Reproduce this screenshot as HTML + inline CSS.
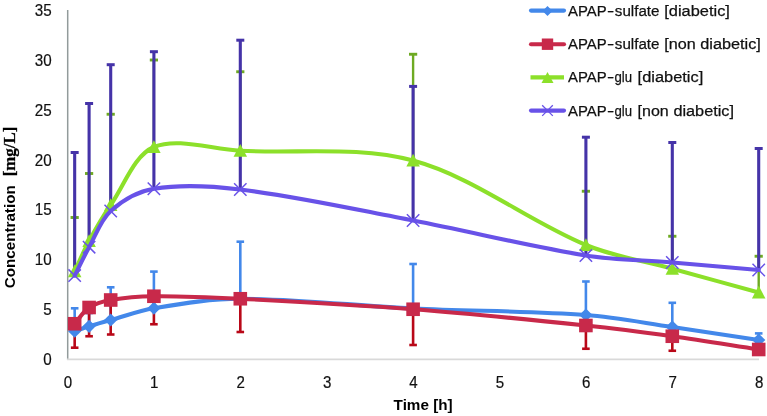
<!DOCTYPE html>
<html><head><meta charset="utf-8"><title>Chart</title>
<style>
html,body{margin:0;padding:0;background:#fff;}
svg{display:block}
.t{font-family:"Liberation Sans",sans-serif;font-size:15.5px;fill:#111;stroke:#111;stroke-width:0.25px;}
.d{font-family:"Liberation Sans",sans-serif;font-size:16.6px;fill:#111;stroke:#111;stroke-width:0.2px;}
.b{font-family:"Liberation Sans",sans-serif;font-size:15.5px;font-weight:bold;fill:#000;}
.s{font-family:"Liberation Serif",serif;font-size:17.5px;font-weight:bold;fill:#000;stroke:#000;stroke-width:0.3px;}
</style></head><body>
<svg width="767" height="416" viewBox="0 0 767 416">
<rect width="767" height="416" fill="#fff"/>
<path d="M67.7,10V360" stroke="#929b9b" stroke-width="1.5" fill="none"/>
<path d="M67,359.4H759" stroke="#d9d9d9" stroke-width="1.6" fill="none"/>
<path d="M74.67,331.25V308.30" stroke="#4388ea" stroke-width="2.6" fill="none"/><path d="M70.87,308.30h7.6" stroke="#4388ea" stroke-width="2.6" fill="none"/><path d="M89.10,326.30V313.00" stroke="#4388ea" stroke-width="2.6" fill="none"/><path d="M85.30,313.00h7.6" stroke="#4388ea" stroke-width="2.6" fill="none"/><path d="M110.70,320.00V287.30" stroke="#4388ea" stroke-width="2.6" fill="none"/><path d="M106.90,287.30h7.6" stroke="#4388ea" stroke-width="2.6" fill="none"/><path d="M153.90,308.25V271.60" stroke="#4388ea" stroke-width="2.6" fill="none"/><path d="M150.10,271.60h7.6" stroke="#4388ea" stroke-width="2.6" fill="none"/><path d="M240.30,298.75V241.70" stroke="#4388ea" stroke-width="2.6" fill="none"/><path d="M236.50,241.70h7.6" stroke="#4388ea" stroke-width="2.6" fill="none"/><path d="M413.10,308.50V264.00" stroke="#4388ea" stroke-width="2.6" fill="none"/><path d="M409.30,264.00h7.6" stroke="#4388ea" stroke-width="2.6" fill="none"/><path d="M585.90,315.00V281.50" stroke="#4388ea" stroke-width="2.6" fill="none"/><path d="M582.10,281.50h7.6" stroke="#4388ea" stroke-width="2.6" fill="none"/><path d="M672.30,327.00V302.80" stroke="#4388ea" stroke-width="2.6" fill="none"/><path d="M668.50,302.80h7.6" stroke="#4388ea" stroke-width="2.6" fill="none"/><path d="M758.70,340.00V333.40" stroke="#4388ea" stroke-width="2.6" fill="none"/><path d="M754.90,333.40h7.6" stroke="#4388ea" stroke-width="2.6" fill="none"/>
<path d="M74.67,323.75V347.70" stroke="#b90818" stroke-width="2.6" fill="none"/><path d="M70.87,347.70h7.6" stroke="#b90818" stroke-width="2.6" fill="none"/><path d="M89.10,307.50V336.25" stroke="#b90818" stroke-width="2.6" fill="none"/><path d="M85.30,336.25h7.6" stroke="#b90818" stroke-width="2.6" fill="none"/><path d="M110.70,300.00V334.50" stroke="#b90818" stroke-width="2.6" fill="none"/><path d="M106.90,334.50h7.6" stroke="#b90818" stroke-width="2.6" fill="none"/><path d="M153.90,296.25V324.25" stroke="#b90818" stroke-width="2.6" fill="none"/><path d="M150.10,324.25h7.6" stroke="#b90818" stroke-width="2.6" fill="none"/><path d="M240.30,298.75V332.00" stroke="#b90818" stroke-width="2.6" fill="none"/><path d="M236.50,332.00h7.6" stroke="#b90818" stroke-width="2.6" fill="none"/><path d="M413.10,309.25V345.00" stroke="#b90818" stroke-width="2.6" fill="none"/><path d="M409.30,345.00h7.6" stroke="#b90818" stroke-width="2.6" fill="none"/><path d="M585.90,325.50V348.75" stroke="#b90818" stroke-width="2.6" fill="none"/><path d="M582.10,348.75h7.6" stroke="#b90818" stroke-width="2.6" fill="none"/><path d="M672.30,336.25V350.75" stroke="#b90818" stroke-width="2.6" fill="none"/><path d="M668.50,350.75h7.6" stroke="#b90818" stroke-width="2.6" fill="none"/><path d="M758.70,349.50V354.50" stroke="#b90818" stroke-width="2.6" fill="none"/><path d="M754.90,354.50h7.6" stroke="#b90818" stroke-width="2.6" fill="none"/>
<path d="M74.67,271.25V217.50" stroke="#6eaa22" stroke-width="2.4" fill="none"/><path d="M70.57,217.50h8.2" stroke="#6eaa22" stroke-width="2.9" fill="none"/><path d="M89.10,241.00V173.50" stroke="#6eaa22" stroke-width="2.4" fill="none"/><path d="M85.00,173.50h8.2" stroke="#6eaa22" stroke-width="2.9" fill="none"/><path d="M110.70,205.00V114.25" stroke="#6eaa22" stroke-width="2.4" fill="none"/><path d="M106.60,114.25h8.2" stroke="#6eaa22" stroke-width="2.9" fill="none"/><path d="M153.90,147.00V60.00" stroke="#6eaa22" stroke-width="2.4" fill="none"/><path d="M149.80,60.00h8.2" stroke="#6eaa22" stroke-width="2.9" fill="none"/><path d="M240.30,150.75V71.75" stroke="#6eaa22" stroke-width="2.4" fill="none"/><path d="M236.20,71.75h8.2" stroke="#6eaa22" stroke-width="2.9" fill="none"/><path d="M413.10,160.60V54.25" stroke="#6eaa22" stroke-width="2.4" fill="none"/><path d="M409.00,54.25h8.2" stroke="#6eaa22" stroke-width="2.9" fill="none"/><path d="M585.90,245.00V191.25" stroke="#6eaa22" stroke-width="2.4" fill="none"/><path d="M581.80,191.25h8.2" stroke="#6eaa22" stroke-width="2.9" fill="none"/><path d="M672.30,268.75V236.25" stroke="#6eaa22" stroke-width="2.4" fill="none"/><path d="M668.20,236.25h8.2" stroke="#6eaa22" stroke-width="2.9" fill="none"/><path d="M758.70,292.50V256.25" stroke="#6eaa22" stroke-width="2.4" fill="none"/><path d="M754.60,256.25h8.2" stroke="#6eaa22" stroke-width="2.9" fill="none"/>
<path d="M74.67,275.60V152.50" stroke="#4533a8" stroke-width="3.1" fill="none"/><path d="M70.67,152.50h8" stroke="#4533a8" stroke-width="3.0" fill="none"/><path d="M89.10,247.20V103.50" stroke="#4533a8" stroke-width="3.1" fill="none"/><path d="M85.10,103.50h8" stroke="#4533a8" stroke-width="3.0" fill="none"/><path d="M110.70,211.00V64.70" stroke="#4533a8" stroke-width="3.1" fill="none"/><path d="M106.70,64.70h8" stroke="#4533a8" stroke-width="3.0" fill="none"/><path d="M153.90,188.75V51.70" stroke="#4533a8" stroke-width="3.1" fill="none"/><path d="M149.90,51.70h8" stroke="#4533a8" stroke-width="3.0" fill="none"/><path d="M240.30,189.50V40.20" stroke="#4533a8" stroke-width="3.1" fill="none"/><path d="M236.30,40.20h8" stroke="#4533a8" stroke-width="3.0" fill="none"/><path d="M413.10,220.50V86.40" stroke="#4533a8" stroke-width="3.1" fill="none"/><path d="M409.10,86.40h8" stroke="#4533a8" stroke-width="3.0" fill="none"/><path d="M585.90,255.50V137.20" stroke="#4533a8" stroke-width="3.1" fill="none"/><path d="M581.90,137.20h8" stroke="#4533a8" stroke-width="3.0" fill="none"/><path d="M672.30,262.50V142.50" stroke="#4533a8" stroke-width="3.1" fill="none"/><path d="M668.30,142.50h8" stroke="#4533a8" stroke-width="3.0" fill="none"/><path d="M758.70,270.00V148.50" stroke="#4533a8" stroke-width="3.1" fill="none"/><path d="M754.70,148.50h8" stroke="#4533a8" stroke-width="3.0" fill="none"/>
<path d="M74.67,331.25 C79.48,329.60 84.25,327.82 89.10,326.30 C96.26,324.07 103.48,322.01 110.70,320.00 C125.08,316.00 139.21,310.66 153.90,308.25 C182.41,303.57 211.42,298.72 240.30,298.75 C297.82,298.81 355.47,305.79 413.10,308.50 C470.67,311.21 528.47,310.90 585.90,315.00 C614.87,317.07 643.52,322.84 672.30,327.00 C701.12,331.17 729.90,335.67 758.70,340.00" stroke="#4388ea" stroke-width="4.1" fill="none" stroke-linecap="round"/>
<path d="M74.67,324.65l6.6,6.6l-6.6,6.6l-6.6,-6.6z" fill="#4388ea"/>
<path d="M89.10,319.70l6.6,6.6l-6.6,6.6l-6.6,-6.6z" fill="#4388ea"/>
<path d="M110.70,313.40l6.6,6.6l-6.6,6.6l-6.6,-6.6z" fill="#4388ea"/>
<path d="M153.90,301.65l6.6,6.6l-6.6,6.6l-6.6,-6.6z" fill="#4388ea"/>
<path d="M240.30,292.15l6.6,6.6l-6.6,6.6l-6.6,-6.6z" fill="#4388ea"/>
<path d="M413.10,301.90l6.6,6.6l-6.6,6.6l-6.6,-6.6z" fill="#4388ea"/>
<path d="M585.90,308.40l6.6,6.6l-6.6,6.6l-6.6,-6.6z" fill="#4388ea"/>
<path d="M672.30,320.40l6.6,6.6l-6.6,6.6l-6.6,-6.6z" fill="#4388ea"/>
<path d="M758.70,333.40l6.6,6.6l-6.6,6.6l-6.6,-6.6z" fill="#4388ea"/>
<path d="M74.67,323.75 C79.48,318.33 83.25,311.36 89.10,307.50 C95.26,303.44 103.24,301.29 110.70,300.00 C124.84,297.54 139.47,296.39 153.90,296.25 C182.67,295.97 211.53,297.31 240.30,298.75 C297.93,301.64 355.57,304.80 413.10,309.25 C470.77,313.71 528.36,319.51 585.90,325.50 C614.76,328.51 643.56,332.26 672.30,336.25 C701.16,340.26 729.90,345.08 758.70,349.50" stroke="#c8294a" stroke-width="4.1" fill="none" stroke-linecap="round"/>
<rect x="67.87" y="316.95" width="13.6" height="13.6" fill="#c8294a"/>
<rect x="82.30" y="300.70" width="13.6" height="13.6" fill="#c8294a"/>
<rect x="103.90" y="293.20" width="13.6" height="13.6" fill="#c8294a"/>
<rect x="147.10" y="289.45" width="13.6" height="13.6" fill="#c8294a"/>
<rect x="233.50" y="291.95" width="13.6" height="13.6" fill="#c8294a"/>
<rect x="406.30" y="302.45" width="13.6" height="13.6" fill="#c8294a"/>
<rect x="579.10" y="318.70" width="13.6" height="13.6" fill="#c8294a"/>
<rect x="665.50" y="329.45" width="13.6" height="13.6" fill="#c8294a"/>
<rect x="751.90" y="342.70" width="13.6" height="13.6" fill="#c8294a"/>
<path d="M74.67,271.25 C79.48,261.17 83.77,250.80 89.10,241.00 C95.78,228.72 102.77,216.51 110.70,205.00 C124.37,185.18 134.23,155.24 153.90,147.00 C177.43,137.15 211.51,149.24 240.30,150.75 C297.91,153.77 358.53,145.72 413.10,160.60 C473.73,177.14 526.96,220.41 585.90,245.00 C613.36,256.46 643.50,260.83 672.30,268.75 C701.10,276.67 729.90,284.58 758.70,292.50" stroke="#8ce02a" stroke-width="4.1" fill="none" stroke-linecap="round"/>
<path d="M74.67,264.45l6.75,12.8h-13.5z" fill="#8ce02a"/>
<path d="M89.10,234.20l6.75,12.8h-13.5z" fill="#8ce02a"/>
<path d="M110.70,198.20l6.75,12.8h-13.5z" fill="#8ce02a"/>
<path d="M153.90,140.20l6.75,12.8h-13.5z" fill="#8ce02a"/>
<path d="M240.30,143.95l6.75,12.8h-13.5z" fill="#8ce02a"/>
<path d="M413.10,153.80l6.75,12.8h-13.5z" fill="#8ce02a"/>
<path d="M585.90,238.20l6.75,12.8h-13.5z" fill="#8ce02a"/>
<path d="M672.30,261.95l6.75,12.8h-13.5z" fill="#8ce02a"/>
<path d="M758.70,285.70l6.75,12.8h-13.5z" fill="#8ce02a"/>
<path d="M74.67,275.60 C79.48,266.13 83.93,256.47 89.10,247.20 C95.94,234.94 100.67,220.05 110.70,211.00 C122.27,200.57 138.35,191.33 153.90,188.75 C181.55,184.16 211.80,186.01 240.30,189.50 C298.20,196.59 355.62,209.52 413.10,220.50 C470.82,231.52 527.98,246.11 585.90,255.50 C614.38,260.11 643.51,260.08 672.30,262.50 C701.11,264.92 729.90,267.50 758.70,270.00" stroke="#6852e8" stroke-width="4.1" fill="none" stroke-linecap="round"/>
<path d="M68.47,269.40l12.4,12.4M68.47,281.80l12.4,-12.4" stroke="#6852e8" stroke-width="1.5" fill="none"/>
<path d="M82.90,241.00l12.4,12.4M82.90,253.40l12.4,-12.4" stroke="#6852e8" stroke-width="1.5" fill="none"/>
<path d="M104.50,204.80l12.4,12.4M104.50,217.20l12.4,-12.4" stroke="#6852e8" stroke-width="1.5" fill="none"/>
<path d="M147.70,182.55l12.4,12.4M147.70,194.95l12.4,-12.4" stroke="#6852e8" stroke-width="1.5" fill="none"/>
<path d="M234.10,183.30l12.4,12.4M234.10,195.70l12.4,-12.4" stroke="#6852e8" stroke-width="1.5" fill="none"/>
<path d="M406.90,214.30l12.4,12.4M406.90,226.70l12.4,-12.4" stroke="#6852e8" stroke-width="1.5" fill="none"/>
<path d="M579.70,249.30l12.4,12.4M579.70,261.70l12.4,-12.4" stroke="#6852e8" stroke-width="1.5" fill="none"/>
<path d="M666.10,256.30l12.4,12.4M666.10,268.70l12.4,-12.4" stroke="#6852e8" stroke-width="1.5" fill="none"/>
<path d="M752.50,263.80l12.4,12.4M752.50,276.20l12.4,-12.4" stroke="#6852e8" stroke-width="1.5" fill="none"/>
<text x="43.25" y="365.20" class="d" textLength="8.45" lengthAdjust="spacingAndGlyphs">0</text>
<text x="43.25" y="315.27" class="d" textLength="8.45" lengthAdjust="spacingAndGlyphs">5</text>
<text x="34.80" y="265.35" class="d" textLength="16.90" lengthAdjust="spacingAndGlyphs">10</text>
<text x="34.80" y="215.43" class="d" textLength="16.90" lengthAdjust="spacingAndGlyphs">15</text>
<text x="34.80" y="165.50" class="d" textLength="16.90" lengthAdjust="spacingAndGlyphs">20</text>
<text x="34.80" y="115.58" class="d" textLength="16.90" lengthAdjust="spacingAndGlyphs">25</text>
<text x="34.80" y="65.65" class="d" textLength="16.90" lengthAdjust="spacingAndGlyphs">30</text>
<text x="34.80" y="15.73" class="d" textLength="16.90" lengthAdjust="spacingAndGlyphs">35</text>
<text x="63.70" y="388.1" class="d" textLength="8.4" lengthAdjust="spacingAndGlyphs">0</text>
<text x="150.10" y="388.1" class="d" textLength="8.4" lengthAdjust="spacingAndGlyphs">1</text>
<text x="236.50" y="388.1" class="d" textLength="8.4" lengthAdjust="spacingAndGlyphs">2</text>
<text x="322.90" y="388.1" class="d" textLength="8.4" lengthAdjust="spacingAndGlyphs">3</text>
<text x="409.30" y="388.1" class="d" textLength="8.4" lengthAdjust="spacingAndGlyphs">4</text>
<text x="495.70" y="388.1" class="d" textLength="8.4" lengthAdjust="spacingAndGlyphs">5</text>
<text x="582.10" y="388.1" class="d" textLength="8.4" lengthAdjust="spacingAndGlyphs">6</text>
<text x="668.50" y="388.1" class="d" textLength="8.4" lengthAdjust="spacingAndGlyphs">7</text>
<text x="754.90" y="388.1" class="d" textLength="8.4" lengthAdjust="spacingAndGlyphs">8</text>
<text x="393.6" y="410" class="b" textLength="59" lengthAdjust="spacingAndGlyphs">Time [h]</text>
<g transform="translate(14.6,288.3) rotate(-90)"><text x="0" y="0" class="b" textLength="103" lengthAdjust="spacingAndGlyphs">Concentration</text><text x="112" y="0.8" class="s" textLength="49.6" lengthAdjust="spacingAndGlyphs">[mg/L]</text></g>
<path d="M531,10.6H564" stroke="#4388ea" stroke-width="4.1" stroke-linecap="round" fill="none"/>
<path d="M547.5,6.0l5,5l-5,5l-5,-5z" fill="#4388ea"/>
<text y="15.6" class="t"><tspan x="568.0" textLength="38.6" lengthAdjust="spacingAndGlyphs">APAP</tspan><tspan x="607.05" textLength="7.2" lengthAdjust="spacingAndGlyphs">-</tspan><tspan x="614.8" textLength="44.7" lengthAdjust="spacingAndGlyphs">sulfate</tspan> <tspan x="664.3" textLength="65.6" lengthAdjust="spacingAndGlyphs">[diabetic]</tspan></text>
<path d="M531,44.2H564" stroke="#c8294a" stroke-width="4.1" stroke-linecap="round" fill="none"/>
<rect x="541.8" y="38.5" width="11.4" height="11.4" fill="#c8294a"/>
<text y="49.1" class="t"><tspan x="568.0" textLength="38.6" lengthAdjust="spacingAndGlyphs">APAP</tspan><tspan x="607.05" textLength="7.2" lengthAdjust="spacingAndGlyphs">-</tspan><tspan x="614.8" textLength="44.7" lengthAdjust="spacingAndGlyphs">sulfate</tspan> <tspan x="664.3" textLength="31.5" lengthAdjust="spacingAndGlyphs">[non</tspan> <tspan x="700.3" textLength="60.6" lengthAdjust="spacingAndGlyphs">diabetic]</tspan></text>
<path d="M530.5,77.4H564" stroke="#8ce02a" stroke-width="4.1" fill="none"/>
<path d="M547.5,72.0l6,11h-12z" fill="#8ce02a"/>
<text y="82.3" class="t"><tspan x="568.0" textLength="38.6" lengthAdjust="spacingAndGlyphs">APAP</tspan><tspan x="607.05" textLength="7.2" lengthAdjust="spacingAndGlyphs">-</tspan><tspan x="614.5" textLength="17.6" lengthAdjust="spacingAndGlyphs">glu</tspan> <tspan x="637.6" textLength="65.6" lengthAdjust="spacingAndGlyphs">[diabetic]</tspan></text>
<path d="M531,110.6H564" stroke="#6852e8" stroke-width="4.1" stroke-linecap="round" fill="none"/>
<path d="M542.2,105.3l10.6,10.6M542.2,115.89999999999999l10.6,-10.6" stroke="#6852e8" stroke-width="1.3" fill="none"/>
<text y="115.5" class="t"><tspan x="568.0" textLength="38.6" lengthAdjust="spacingAndGlyphs">APAP</tspan><tspan x="607.05" textLength="7.2" lengthAdjust="spacingAndGlyphs">-</tspan><tspan x="614.5" textLength="17.6" lengthAdjust="spacingAndGlyphs">glu</tspan> <tspan x="637.6" textLength="31.2" lengthAdjust="spacingAndGlyphs">[non</tspan> <tspan x="673.4" textLength="60.6" lengthAdjust="spacingAndGlyphs">diabetic]</tspan></text>
</svg>
</body></html>
